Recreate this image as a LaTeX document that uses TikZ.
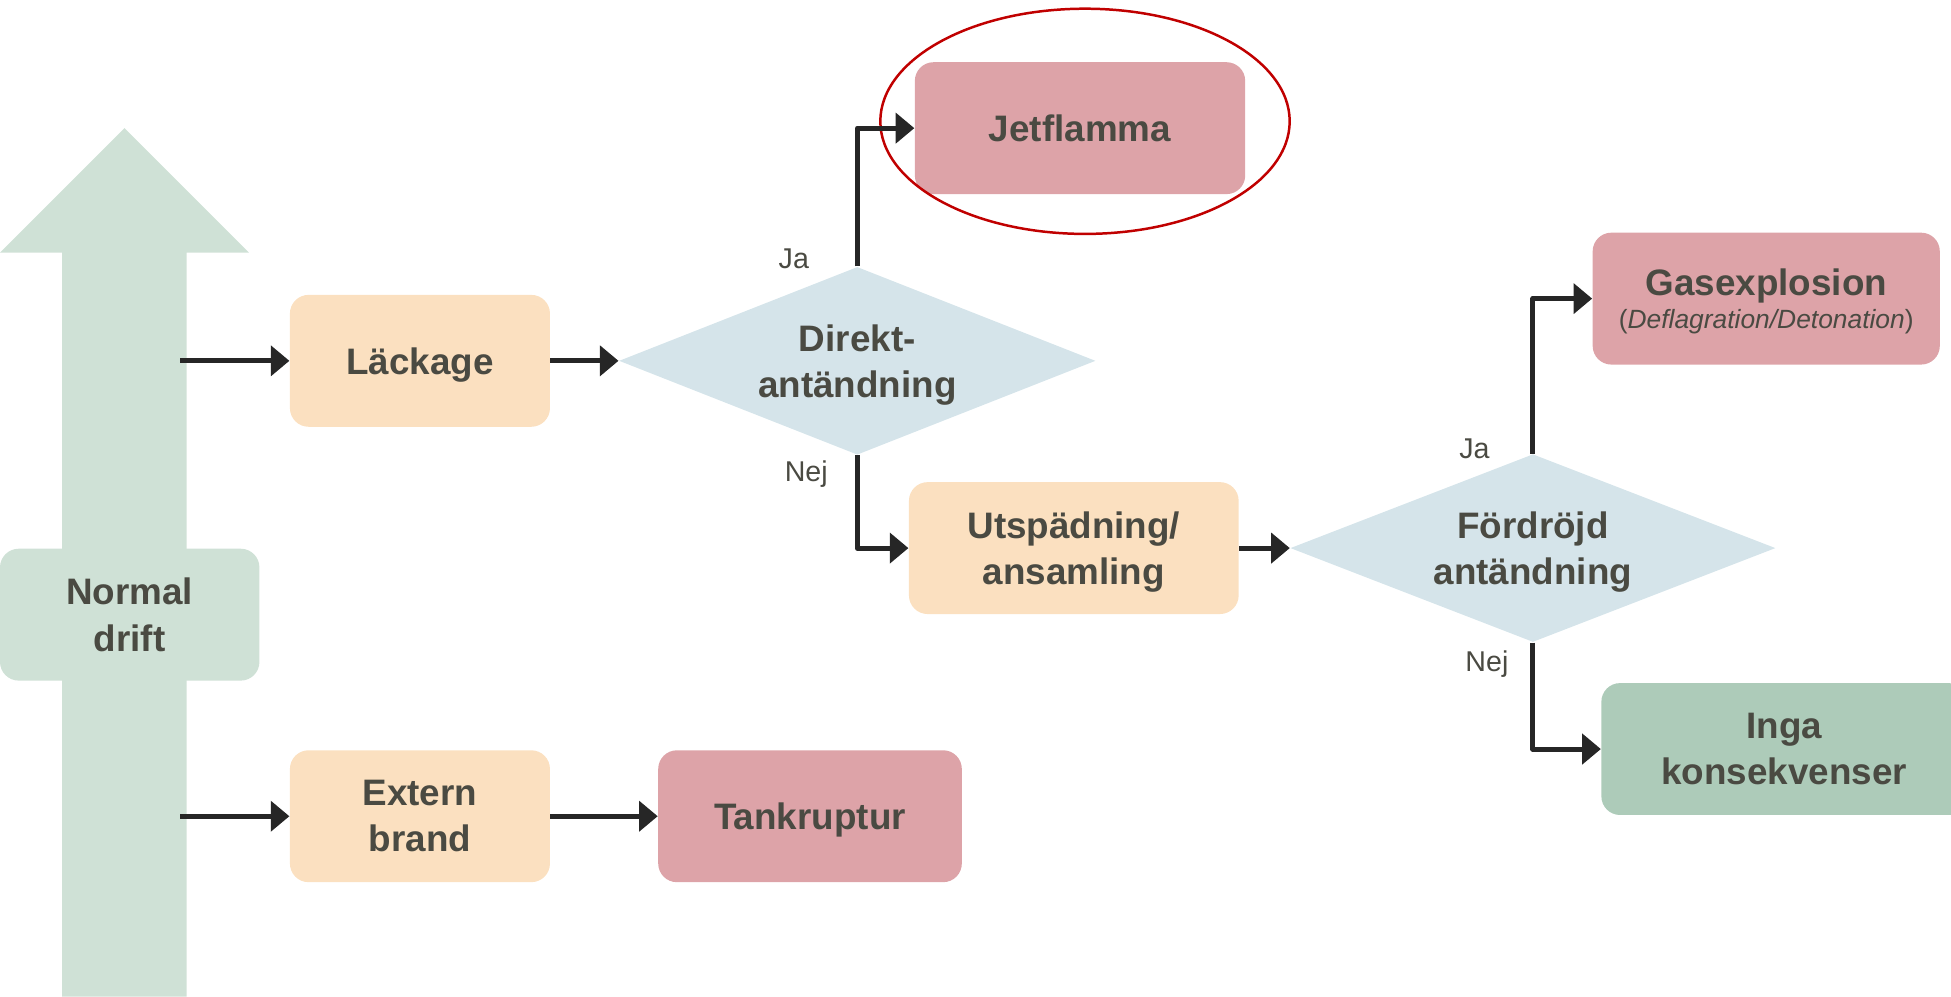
\documentclass[tikz,border=0pt]{standalone}
\usepackage{fontspec}
\setmainfont{Liberation Sans}
\usetikzlibrary{shapes.geometric,arrows.meta}
\definecolor{txt}{HTML}{4A4A42}
\definecolor{sage}{HTML}{CFE1D6}
\definecolor{peach}{HTML}{FBE0C0}
\definecolor{rose}{HTML}{DDA3A8}
\definecolor{mist}{HTML}{D5E4EA}
\definecolor{moss}{HTML}{ADCBB9}
\definecolor{ink}{HTML}{262626}
\definecolor{ringred}{HTML}{C00000}
\begin{document}
\begin{tikzpicture}[x=0.5pt,y=-0.5pt,
  box/.style={rounded corners=7.5pt, inner sep=0pt, text=txt, align=center,
    text depth=0pt, minimum height=53pt,
    font=\fontsize{14.8pt}{18.5pt}\selectfont\bfseries},
  stage/.style={box, fill=peach},
  outcome/.style={box, fill=rose},
  decision/.style={diamond, aspect=2.55, fill=mist, inner sep=0pt,
    minimum width=191.5pt, minimum height=75.5pt, text=txt, align=center,
    text depth=0pt, font=\fontsize{14.8pt}{18.5pt}\selectfont\bfseries},
  flow/.style={draw=ink, line width=2pt, line join=round,
    -{Triangle[length=7.5pt,width=12pt]}},
  answer/.style={text=txt, inner sep=0pt, font=\fontsize{11.5pt}{13pt}\selectfont}
]
\clip (0,0) rectangle (1568,801);

% upward arrow behind the start node
\fill[sage] (50,801) -- (50,203) -- (0,203) -- (100,103) -- (200,203)
  -- (150,203) -- (150,801) -- cycle;
\node[box, fill=sage, minimum width=104.25pt] (nd) at (104.25,494) {Normal\\drift};

% stages and outcomes
\node[stage, minimum width=104.5pt] (lk) at (337.5,290) {Läckage};
\node[decision] (d1) at (689,290) {Direkt-\\antändning};
\node[outcome, minimum width=132.75pt] (jet) at (868,103) {Jetflamma};
\node[stage, minimum width=132.5pt] (ut) at (863,440.5) {Utspädning/\\ansamling};
\node[decision, minimum width=195pt] (d2) at (1232,440.5) {Fördröjd\\antändning};
\node[outcome, minimum width=139.5pt] (gas) at (1419.5,240)
  {Gasexplosion\\[-5pt]{\fontsize{10.6pt}{13pt}\selectfont\mdseries(\textit{Deflagration/Detonation})}};
\node[box, fill=moss, minimum width=147pt] (inga) at (1434,602) {Inga\\konsekvenser};
\node[stage, minimum width=104.5pt] (eb) at (337.5,656) {Extern\\brand};
\node[outcome, minimum width=122pt] (tank) at (651,656) {Tankruptur};

% highlight ring
\node[draw=ringred, line width=1pt, ellipse, inner sep=0pt,
  minimum width=164.5pt, minimum height=90.5pt] (ring) at (872,97.5) {};

% start points on the arrow shaft
\coordinate (s1) at (145,290);
\coordinate (s2) at (145,656);

% connectors
\draw[flow] (s1) -- (lk.west);
\draw[flow] (lk.east) -- (d1.west);
\draw[flow] (d1.north) |- (jet.west);
\draw[flow] (d1.south) |- (ut.west);
\draw[flow] (ut.east) -- (d2.west);
\draw[flow] (d2.north) |- (gas.west);
\draw[flow] (d2.south) |- (inga.west);
\draw[flow] (s2) -- (eb.west);
\draw[flow] (eb.east) -- (tank.west);

% branch labels
\node[answer] (ja1) at (638,208) {Ja};
\node[answer] (nej1) at (648,381) {Nej};
\node[answer] (ja2) at (1185,361) {Ja};
\node[answer] (nej2) at (1195,534) {Nej};
\end{tikzpicture}
\end{document}
